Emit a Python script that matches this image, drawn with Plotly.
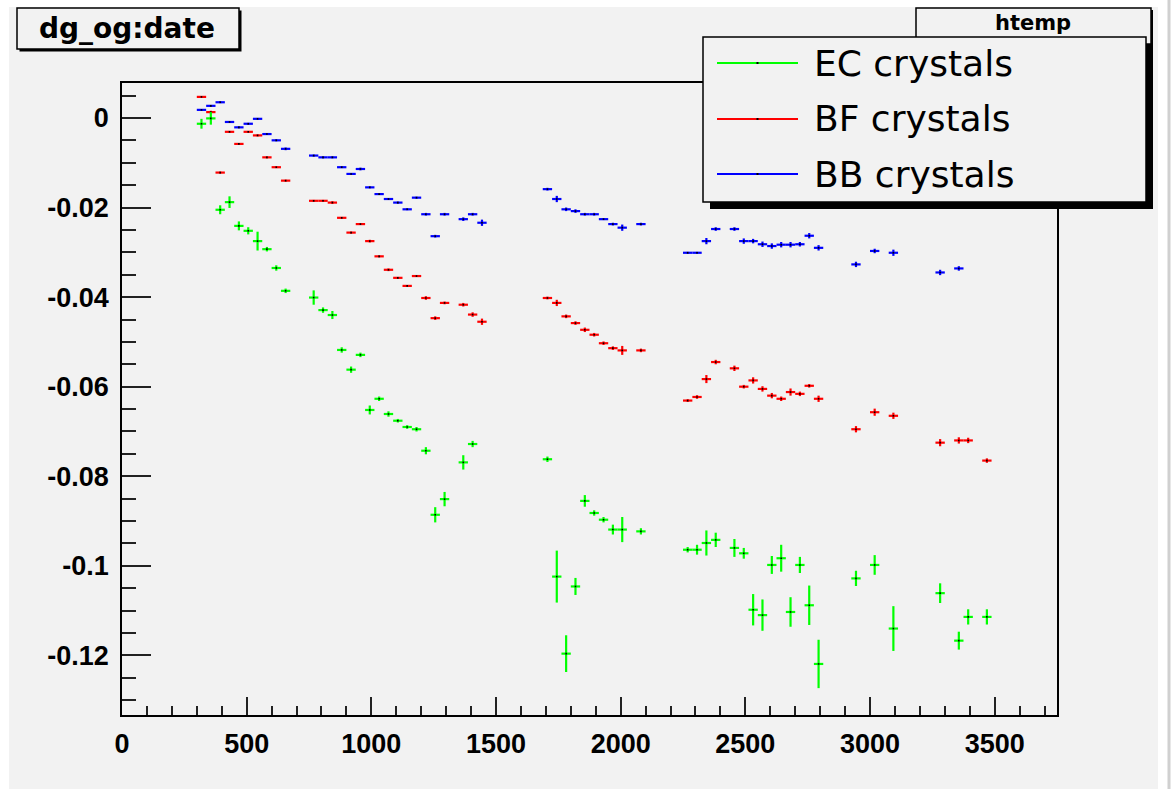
import plotly.graph_objects as go

# ---- data: bin centres (date) and mean dg_og per crystal group ----
ec_date = [318.75, 356.25, 393.75, 431.25, 468.75, 506.25, 543.75, 581.25, 618.75, 656.25,
           768.75, 806.25, 843.75, 881.25, 918.75, 956.25, 993.75, 1031.25, 1068.75, 1106.25,
           1143.75, 1181.25, 1218.75, 1256.25, 1293.75, 1368.75, 1406.25,
           1706.25, 1743.75, 1781.25, 1818.75, 1856.25, 1893.75, 1931.25, 1968.75, 2006.25,
           2081.25, 2268.75, 2306.25, 2343.75, 2381.25, 2456.25, 2493.75, 2531.25, 2568.75,
           2606.25, 2643.75, 2681.25, 2718.75, 2756.25, 2793.75, 2943.75, 3018.75, 3093.75,
           3281.25, 3356.25, 3393.75, 3468.75]
ec_val = [-0.0013, -0.0001, -0.0205, -0.0188, -0.0241, -0.0252, -0.0275, -0.0293, -0.0335, -0.0386,
          -0.0401, -0.0429, -0.0440, -0.0518, -0.0562, -0.0529, -0.0652, -0.0627, -0.0661, -0.0676,
          -0.0690, -0.0695, -0.0743, -0.0886, -0.0851, -0.0769, -0.0728,
          -0.0762, -0.1024, -0.1196, -0.1046, -0.0855, -0.0882, -0.0897, -0.0919, -0.0919,
          -0.0923, -0.0964, -0.0964, -0.0949, -0.0942, -0.0960, -0.0972, -0.1098, -0.1110,
          -0.0998, -0.0983, -0.1103, -0.0998, -0.1088, -0.1219, -0.1028, -0.0998, -0.1140,
          -0.1061, -0.1167, -0.1114, -0.1114]
ec_err = [0.0011, 0.0014, 0.0010, 0.0013, 0.0010, 0.0008, 0.0021, 0.0005, 0.0006, 0.0005,
          0.0016, 0.0006, 0.0009, 0.0006, 0.0007, 0.0005, 0.0010, 0.0005, 0.0006, 0.0004,
          0.0004, 0.0005, 0.0008, 0.0017, 0.0016, 0.0016, 0.0007,
          0.0006, 0.0058, 0.0041, 0.0019, 0.0013, 0.0006, 0.0006, 0.0011, 0.0028,
          0.0007, 0.0006, 0.0011, 0.0028, 0.0016, 0.0020, 0.0012, 0.0035, 0.0035,
          0.0020, 0.0030, 0.0033, 0.0018, 0.0044, 0.0054, 0.0017, 0.0022, 0.0050,
          0.0022, 0.0020, 0.0017, 0.0017]

bf_date = [318.75, 356.25, 393.75, 431.25, 468.75, 506.25, 543.75, 581.25, 618.75, 656.25,
           768.75, 806.25, 843.75, 881.25, 918.75, 956.25, 993.75, 1031.25, 1068.75, 1106.25,
           1143.75, 1181.25, 1218.75, 1256.25, 1293.75, 1368.75, 1406.25, 1443.75,
           1706.25, 1743.75, 1781.25, 1818.75, 1856.25, 1893.75, 1931.25, 1968.75, 2006.25,
           2081.25, 2268.75, 2306.25, 2343.75, 2381.25, 2456.25, 2493.75, 2531.25, 2568.75,
           2606.25, 2643.75, 2681.25, 2718.75, 2756.25, 2793.75, 2943.75, 3018.75, 3093.75,
           3281.25, 3356.25, 3393.75, 3468.75]
bf_val = [0.0047, 0.0013, -0.0122, -0.0031, -0.0058, -0.0031, -0.0039, -0.0088, -0.0110, -0.0140,
          -0.0185, -0.0185, -0.0189, -0.0223, -0.0256, -0.0237, -0.0275, -0.0309, -0.0339, -0.0357,
          -0.0375, -0.0353, -0.0402, -0.0447, -0.0413, -0.0417, -0.0439, -0.0455,
          -0.0402, -0.0413, -0.0443, -0.0458, -0.0473, -0.0484, -0.0503, -0.0514, -0.0519,
          -0.0519, -0.0631, -0.0623, -0.0583, -0.0545, -0.0559, -0.0600, -0.0586, -0.0605,
          -0.0620, -0.0627, -0.0612, -0.0616, -0.0598, -0.0627, -0.0695, -0.0657, -0.0665,
          -0.0725, -0.0720, -0.0720, -0.0765]
bf_err = [0.0002, 0.0003, 0.0002, 0.0002, 0.0002, 0.0002, 0.0002, 0.0002, 0.0002, 0.0002,
          0.0002, 0.0002, 0.0003, 0.0002, 0.0002, 0.0002, 0.0003, 0.0002, 0.0003, 0.0002,
          0.0002, 0.0002, 0.0004, 0.0004, 0.0003, 0.0004, 0.0005, 0.0007,
          0.0003, 0.0007, 0.0004, 0.0004, 0.0005, 0.0004, 0.0004, 0.0004, 0.0010,
          0.0004, 0.0003, 0.0004, 0.0009, 0.0005, 0.0006, 0.0004, 0.0007, 0.0006,
          0.0006, 0.0005, 0.0008, 0.0005, 0.0004, 0.0007, 0.0007, 0.0008, 0.0007,
          0.0008, 0.0007, 0.0006, 0.0005]

bb_date = [318.75, 356.25, 393.75, 431.25, 468.75, 506.25, 543.75, 581.25, 618.75, 656.25,
           768.75, 806.25, 843.75, 881.25, 918.75, 956.25, 993.75, 1031.25, 1068.75, 1106.25,
           1143.75, 1181.25, 1218.75, 1256.25, 1293.75, 1368.75, 1406.25, 1443.75,
           1706.25, 1743.75, 1781.25, 1818.75, 1856.25, 1893.75, 1931.25, 1968.75, 2006.25,
           2081.25, 2268.75, 2306.25, 2343.75, 2381.25, 2456.25, 2493.75, 2531.25, 2568.75,
           2606.25, 2643.75, 2681.25, 2718.75, 2756.25, 2793.75, 2943.75, 3018.75, 3093.75,
           3281.25, 3356.25]
bb_val = [0.0018, 0.0027, 0.0035, -0.0009, -0.0021, -0.0013, -0.0002, -0.0036, -0.0050, -0.0069,
          -0.0084, -0.0088, -0.0088, -0.0110, -0.0125, -0.0114, -0.0155, -0.0170, -0.0181, -0.0189,
          -0.0204, -0.0178, -0.0215, -0.0264, -0.0215, -0.0226, -0.0215, -0.0234,
          -0.0159, -0.0181, -0.0204, -0.0208, -0.0215, -0.0215, -0.0226, -0.0237, -0.0245,
          -0.0237, -0.0301, -0.0301, -0.0275, -0.0248, -0.0248, -0.0275, -0.0275, -0.0282,
          -0.0286, -0.0283, -0.0283, -0.0282, -0.0263, -0.0290, -0.0327, -0.0297, -0.0301,
          -0.0345, -0.0336]
bb_err = [0.0002, 0.0002, 0.0002, 0.0002, 0.0002, 0.0002, 0.0002, 0.0002, 0.0002, 0.0003,
          0.0002, 0.0002, 0.0002, 0.0002, 0.0002, 0.0003, 0.0002, 0.0002, 0.0002, 0.0002,
          0.0002, 0.0002, 0.0003, 0.0003, 0.0003, 0.0004, 0.0003, 0.0007,
          0.0003, 0.0007, 0.0004, 0.0004, 0.0003, 0.0003, 0.0002, 0.0003, 0.0007,
          0.0003, 0.0002, 0.0002, 0.0007, 0.0004, 0.0004, 0.0006, 0.0005, 0.0006,
          0.0006, 0.0006, 0.0006, 0.0005, 0.0006, 0.0006, 0.0006, 0.0005, 0.0007,
          0.0006, 0.0005]

half_bin = 18.75  # horizontal error = half of the 37.5-day bin

series_names = ["EC crystals", "BF crystals", "BB crystals"]
series_colors = ["#00ff00", "#ff0000", "#0000ff"]

x_tickvals = [0, 500, 1000, 1500, 2000, 2500, 3000, 3500]
x_ticktext = ["0", "500", "1000", "1500", "2000", "2500", "3000", "3500"]
y_tickvals = [0, -0.02, -0.04, -0.06, -0.08, -0.1, -0.12]
y_ticktext = ["0", "-0.02", "-0.04", "-0.06", "-0.08", "-0.1", "-0.12"]

title_text = "dg_og:date"
hist_name = "htemp"

# ---- canvas geometry (pixels) ----
FIG_W, FIG_H = 1174, 789
L, R, T, B = 122, 1057, 83, 715
PW, PH = R - L, B - T


def px(x):
    return (x - L) / PW


def py(y):
    return (B - y) / PH


CANVAS = "#f2f2f2"

fig = go.Figure()

# draw BB underneath, EC on top (later graphs are drawn above)
for dates, vals, errs, name, col in [
    (bb_date, bb_val, bb_err, series_names[2], series_colors[2]),
    (bf_date, bf_val, bf_err, series_names[1], series_colors[1]),
    (ec_date, ec_val, ec_err, series_names[0], series_colors[0]),
]:
    fig.add_trace(go.Scatter(
        x=dates, y=vals, mode="markers", name=name, showlegend=False,
        marker=dict(color="black", size=1.6, symbol="square", line=dict(width=0)),
        error_x=dict(type="constant", value=half_bin, color=col, thickness=2.2, width=0),
        error_y=dict(type="data", array=errs, color=col, thickness=2.2, width=0),
    ))

shapes = []
annotations = []

# grey canvas
shapes.append(dict(type="rect", xref="paper", yref="paper", layer="below",
                   x0=px(9), x1=px(1158), y0=py(7), y1=py(789),
                   fillcolor=CANVAS, line=dict(width=0)))
shapes.append(dict(type="line", xref="paper", yref="paper", layer="below",
                   x0=px(1169), x1=px(1169), y0=py(0), y1=py(789),
                   line=dict(color="#d0d0d0", width=3)))


def boxed(x0, y0, x1, y1, shadow):
    shapes.append(dict(type="rect", xref="paper", yref="paper",
                       x0=px(x0 + shadow), x1=px(x1 + shadow), y0=py(y0 + shadow), y1=py(y1 + shadow),
                       fillcolor="black", line=dict(width=0)))
    shapes.append(dict(type="rect", xref="paper", yref="paper",
                       x0=px(x0), x1=px(x1), y0=py(y0), y1=py(y1),
                       fillcolor=CANVAS, line=dict(color="black", width=1.5)))


# title pave
boxed(17, 8, 239, 49, 2.5)
annotations.append(dict(text=title_text, xref="paper", yref="paper", x=px(127), y=py(29),
                        xanchor="center", yanchor="middle", showarrow=False,
                        font=dict(family="DejaVu Sans", size=28, color="black", weight="bold")))

# histogram name pave
boxed(916, 8, 1151, 44, 2)
annotations.append(dict(text=hist_name, xref="paper", yref="paper", x=px(1033), y=py(23),
                        xanchor="center", yanchor="middle", showarrow=False,
                        font=dict(family="DejaVu Sans", size=21, color="black", weight="bold")))

# legend pave
boxed(703, 37, 1146, 202, 7)
legend_y = [63, 119, 174]
for name, col, yy in zip(series_names, series_colors, legend_y):
    shapes.append(dict(type="line", xref="paper", yref="paper",
                       x0=px(717), x1=px(798), y0=py(yy), y1=py(yy),
                       line=dict(color=col, width=2)))
    shapes.append(dict(type="rect", xref="paper", yref="paper",
                       x0=px(756.5), x1=px(758.5), y0=py(yy - 1), y1=py(yy + 1),
                       fillcolor="black", line=dict(width=0)))
    annotations.append(dict(text=name, xref="paper", yref="paper", x=px(812), y=py(yy),
                            xanchor="left", yanchor="middle", showarrow=False,
                            font=dict(family="DejaVu Sans", size=36, color="black")))

axis_font = dict(family="Liberation Sans", size=27, color="black", weight="bold")

fig.update_layout(
    width=FIG_W, height=FIG_H,
    margin=dict(l=L, r=FIG_W - R, t=T, b=FIG_H - B, pad=0),
    paper_bgcolor="white", plot_bgcolor=CANVAS,
    shapes=shapes, annotations=annotations,
    showlegend=False,
)
fig.update_xaxes(
    range=[0, 3750], tickvals=x_tickvals, ticktext=x_ticktext,
    ticks="inside", ticklen=18, tickwidth=1.5, tickcolor="#222",
    minor=dict(dtick=100, tick0=0, ticks="inside", ticklen=9, tickwidth=1.5, tickcolor="#222"),
    showgrid=False, zeroline=False, showline=True, mirror=True,
    linecolor="black", linewidth=1.5, tickfont=axis_font, ticklabelstandoff=4,
)
fig.update_yaxes(
    range=[-0.1333, 0.0078], tickvals=y_tickvals, ticktext=y_ticktext,
    ticks="inside", ticklen=29, tickwidth=1.5, tickcolor="#222",
    minor=dict(dtick=0.005, tick0=0, ticks="inside", ticklen=14, tickwidth=1.5, tickcolor="#222"),
    showgrid=False, zeroline=False, showline=True, mirror=True,
    linecolor="black", linewidth=1.5, tickfont=axis_font, ticklabelstandoff=6,
)

fig.write_html("out.html")
